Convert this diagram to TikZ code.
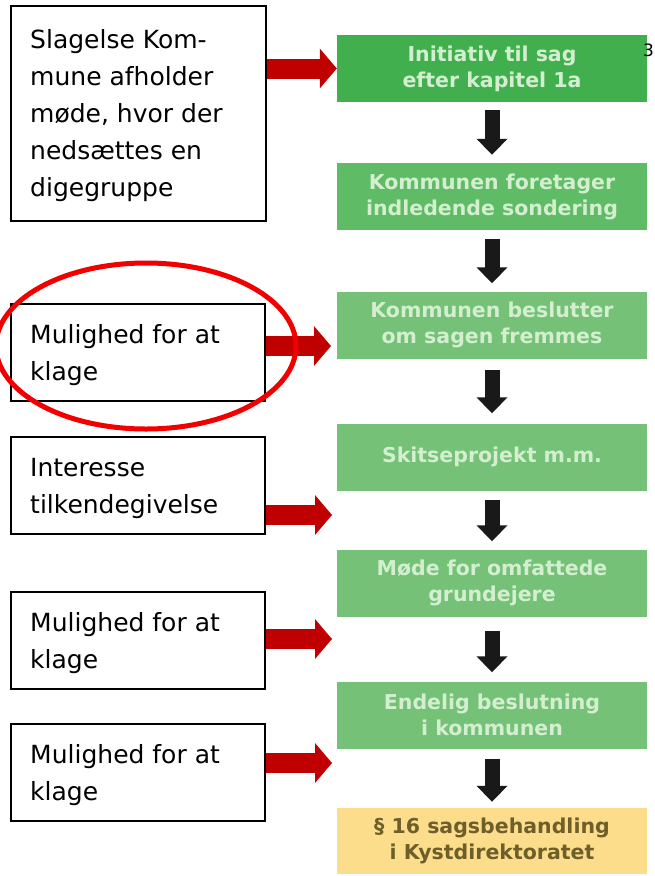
\documentclass[tikz,border=0pt]{standalone}
\usepackage{fontspec}
\setmainfont{DejaVu Sans}
\usetikzlibrary{arrows.meta}
\definecolor{gA}{HTML}{42AF4F}
\definecolor{gB}{HTML}{5FBB65}
\definecolor{gC}{HTML}{74C177}
\definecolor{gtxt}{HTML}{D3EFD0}
\definecolor{ybox}{HTML}{FBDD8C}
\definecolor{ytxt}{HTML}{6E5E2A}
\definecolor{redarr}{HTML}{C00000}
\definecolor{ringred}{HTML}{F20000}
\tikzset{
  stepbox/.style={minimum width=310pt, minimum height=67pt, inner sep=0pt, align=center,
    font=\fontsize{20.5}{26}\selectfont\bfseries, text=gtxt},
  notebox/.style={draw=black, line width=2pt, inner sep=0pt, anchor=north west},
  notetext/.style={align=left, anchor=west, font=\fontsize{25}{37}\selectfont, inner sep=0pt},
  redarrow/.style={draw=redarr, line width=20pt, -{Triangle[width=39pt,length=17pt]}},
  downarrow/.style={draw=black!90, line width=15pt, -{Triangle[width=30pt,length=16pt]}}
}
\begin{document}
\begin{tikzpicture}[x=1pt,y=-1pt]
\useasboundingbox (0,0) rectangle (654,876);
% green steps
\node[stepbox, fill=gA] (s1) at (492,68.5) {Initiativ til sag\\efter kapitel 1a};
\node[stepbox, fill=gB] (s2) at (492,196.5) {Kommunen foretager\\indledende sondering};
\node[stepbox, fill=gC] (s3) at (492,325) {Kommunen beslutter\\om sagen fremmes};
\node[stepbox, fill=gC] (s4) at (492,457) {Skitseprojekt m.m.};
\node[stepbox, fill=gC] (s5) at (492,583) {Møde for omfattede\\grundejere};
\node[stepbox, fill=gC] (s6) at (492,715) {Endelig beslutning\\i kommunen};
\node[stepbox, fill=ybox, text=ytxt, minimum height=66pt] (s7) at (492,841) {§ 16 sagsbehandling\\i Kystdirektoratet};
\node[font=\fontsize{17}{17}\selectfont, anchor=west, inner sep=0pt] (pg) at (643,50) {3};
% down arrows
\draw[downarrow, shorten <=8pt, shorten >=8pt] (s1) -- (s2);
\draw[downarrow, shorten <=9pt, shorten >=8pt] (s2) -- (s3);
\draw[downarrow, shorten <=11pt, shorten >=10pt] (s3) -- (s4);
\draw[downarrow, shorten <=9pt, shorten >=8pt] (s4) -- (s5);
\draw[downarrow, shorten <=14pt, shorten >=9pt] (s5) -- (s6);
\draw[downarrow, shorten <=10pt, shorten >=6pt] (s6) -- (s7);
% note boxes
\node[notebox, minimum width=255pt, minimum height=215pt] (n1) at (10,5) {};
\node[notetext] (t1) at (30,116) {Slagelse Kom-\\mune afholder\\møde, hvor der\\nedsættes en\\digegruppe};
\node[notebox, minimum width=254pt, minimum height=97pt] (n2) at (10,303) {};
\node[notetext] (t2) at (30,355) {Mulighed for at\\klage};
\node[notebox, minimum width=254pt, minimum height=97pt] (n3) at (10,436) {};
\node[notetext] (t3) at (30,488) {Interesse\\tilkendegivelse};
\node[notebox, minimum width=254pt, minimum height=97pt] (n4) at (10,591) {};
\node[notetext] (t4) at (30,643) {Mulighed for at\\klage};
\node[notebox, minimum width=254pt, minimum height=97pt] (n5) at (10,723) {};
\node[notetext] (t5) at (30,775) {Mulighed for at\\klage};
% red arrows
\coordinate (e2) at (331,346);
\coordinate (e3) at (332,515);
\coordinate (e4) at (332,639);
\coordinate (e5) at (332,763);
\draw[redarrow] (n1.east |- s1.west) -- (s1.west);
\draw[redarrow] (n2.east |- e2) -- (e2);
\draw[redarrow] (n3.east |- e3) -- (e3);
\draw[redarrow] (n4.east |- e4) -- (e4);
\draw[redarrow] (n5.east |- e5) -- (e5);
% ellipse
\draw[ringred, line width=5pt] (146,346) ellipse [x radius=150, y radius=83];
\end{tikzpicture}
\end{document}
